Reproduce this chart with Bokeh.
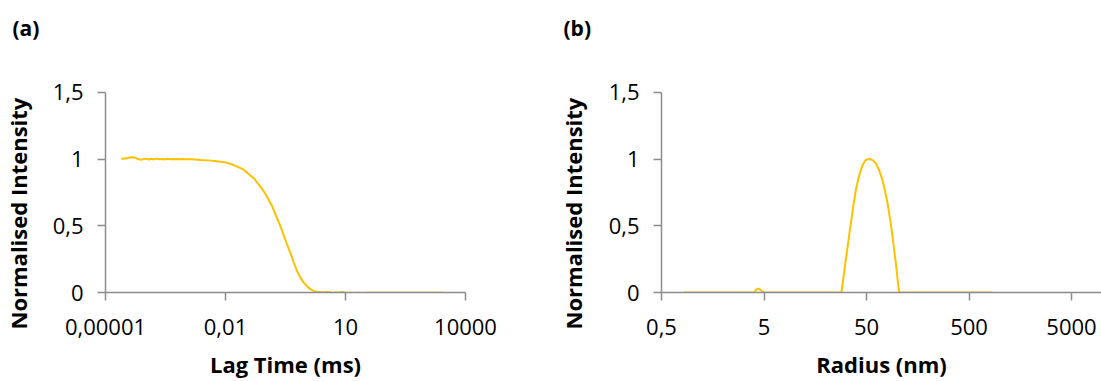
from bokeh.plotting import figure
from bokeh.layouts import row
from bokeh.models import FixedTicker, Range1d, Title
from bokeh.embed import file_html
from bokeh.resources import INLINE

# (a) correlation function vs lag time
lag_time_ms = [2.5e-5, 3.0e-5, 3.5e-5, 4.1e-5, 4.8e-5, 5.6e-5, 6.5e-5, 7.5e-5, 8.8e-5,
               1.0e-4, 1.2e-4, 1.4e-4, 1.6e-4, 1.9e-4, 2.2e-4, 2.6e-4, 3.0e-4, 3.5e-4,
               4.1e-4, 4.8e-4, 5.6e-4, 6.5e-4, 7.5e-4, 8.8e-4, 1.0e-3, 1.5e-3, 2.4e-3,
               3.6e-3, 5.4e-3, 7.5e-3, 1.0e-2, 1.6e-2, 2.4e-2, 2.9e-2, 3.6e-2, 4.6e-2,
               0.0513, 0.0676, 0.0912, 0.1175, 0.148, 0.186, 0.237, 0.288, 0.347, 0.427,
               0.513, 0.617, 0.75, 0.912, 1.096, 1.32, 1.62, 1.95, 2.37, 2.9, 3.5, 4.2,
               5.0, 5.8, 6.7, 7.8, 9.0, 10.5, 12.5, 15, 20, 27, 36, 50, 70, 100, 150,
               230, 350, 550, 850, 1300, 2000, 3000]
intensity_a = [1.000, 1.004, 1.008, 1.011, 1.013, 1.010, 1.000, 0.995, 0.998,
               1.003, 0.996, 1.002, 0.997, 1.003, 0.998, 1.001, 0.997, 1.002,
               0.999, 1.001, 0.998, 1.000, 0.998, 1.000, 0.999, 0.998, 0.993,
               0.990, 0.985, 0.980, 0.975, 0.955, 0.932, 0.918, 0.893, 0.866,
               0.856, 0.810, 0.756, 0.700, 0.644, 0.570, 0.495, 0.425, 0.358, 0.290,
               0.221, 0.160, 0.110, 0.072, 0.047, 0.025, 0.010, 0.005, 0.003, 0.002, 0.004, 0.001,
               -0.003, 0.002, -0.004, 0.003, 0.001, -0.003, -0.002, -0.003, -0.002, -0.003, -0.001, -0.002, -0.001, -0.002, -0.001,
               -0.002, -0.001, -0.002, -0.001, -0.001, -0.001, -0.001]

# (b) size distribution vs radius
radius_nm = [0.83, 4.0, 4.2, 4.38, 4.6, 4.94, 28.5, 29.9, 31.4, 33.2, 35.2, 37.2, 39.4,
             41.7, 44.0, 46.5, 49.2, 51.6, 54.2, 57.8, 61.7, 66.5, 71.6, 75.8, 80.2,
             85.0, 89.7, 93.1, 96.6, 100.2, 104.0, 847]
intensity_b = [0, 0, 0.022, 0.03, 0.022, 0, 0, 0.12, 0.246, 0.38, 0.52, 0.65, 0.77,
               0.855, 0.918, 0.965, 0.993, 0.998, 1.0, 0.99, 0.968, 0.915, 0.843, 0.76, 0.67,
               0.55, 0.42, 0.32, 0.22, 0.11, 0, 0]

y_ticks = [0, 0.5, 1, 1.5]
y_labels = ["0", "0,5", "1", "1,5"]
xa_ticks = [1e-5, 1e-2, 10, 1e4]
xa_labels = ["0,00001", "0,01", "10", "10000"]
xb_ticks = [0.5, 5, 50, 500, 5000]
xb_labels = ["0,5", "5", "50", "500", "5000"]
y_title = "Normalised Intensity"

LINE = "#FFC000"
AXIS = "#8C8C8C"
FONT = "Open Sans"

# the frame starts above the 1.5 tick so the panel letter fits in the top border;
# the y axis itself is bounded to 0..1.5
FRAME_TOP = 45
PX_PER_UNIT = 134.0
Y_END = 1.5 + (92 - FRAME_TOP) / PX_PER_UNIT


def style(p, xticks, xlabels, xtitle, letter, letter_offset, ytitle_standoff):
    p.outline_line_color = None
    p.grid.visible = False
    p.background_fill_color = "white"
    p.border_fill_color = "white"
    p.yaxis.ticker = FixedTicker(ticks=y_ticks)
    p.yaxis.major_label_overrides = dict(zip(y_ticks, y_labels))
    p.yaxis.bounds = (0, 1.5)
    p.xaxis.ticker = FixedTicker(ticks=xticks)
    p.xaxis.major_label_overrides = dict(zip(xticks, xlabels))
    for ax in (p.xaxis[0], p.yaxis[0]):
        ax.axis_line_color = AXIS
        ax.axis_line_width = 1.5
        ax.major_tick_line_color = AXIS
        ax.major_tick_line_width = 1.5
        ax.major_tick_in = 0
        ax.major_tick_out = 8
        ax.minor_tick_line_color = None
        ax.major_label_text_font = FONT
        ax.major_label_text_font_size = "22px"
        ax.major_label_text_color = "#000000"
        ax.axis_label_text_font = FONT
        ax.axis_label_text_font_size = "22px"
        ax.axis_label_text_font_style = "bold"
        ax.axis_label_text_color = "#000000"
    p.xaxis.axis_label = xtitle
    p.yaxis.major_label_standoff = 14
    p.xaxis.major_label_standoff = 18
    p.xaxis.axis_label_standoff = 11

    # panel letter, top-left
    p.title.text = letter
    p.title.align = "left"
    p.title.offset = letter_offset
    p.title.vertical_align = "bottom"
    p.title.standoff = 8
    p.title.text_font = FONT
    p.title.text_font_size = "21px"
    p.title.text_font_style = "bold"
    p.title.text_color = "#000000"

    # vertical axis title, rotated, outside the tick labels
    p.add_layout(Title(text=y_title, align="left", offset=-37, vertical_align="top",
                       standoff=ytitle_standoff, text_font=FONT, text_font_size="22px",
                       text_font_style="bold", text_color="#000000"), "left")


# left chart: canvas starts 20 px left of the page so its border can hold the axis title
pa = figure(width=559, height=381, x_axis_type="log",
            x_range=Range1d(1e-5, 1e4), y_range=Range1d(0, Y_END),
            output_backend="svg", toolbar_location=None,
            min_border_left=125, min_border_right=74,
            min_border_top=FRAME_TOP, min_border_bottom=88,
            margin=(0, 0, 0, -20))
pa.line(lag_time_ms, intensity_a, line_color=LINE, line_width=2)
style(pa, xa_ticks, xa_labels, "Lag Time (ms)", "(a)", -93, 30)

# right chart: frame runs to the right edge of the page
xb_end = 10 ** (-0.30103 + 440 / 102.5)
pb = figure(width=562, height=381, x_axis_type="log",
            x_range=Range1d(0.5, xb_end), y_range=Range1d(0, Y_END),
            output_backend="svg", toolbar_location=None,
            min_border_left=122, min_border_right=0,
            min_border_top=FRAME_TOP, min_border_bottom=88)
pb.line(radius_nm, intensity_b, line_color=LINE, line_width=2)
style(pb, xb_ticks, xb_labels, "Radius (nm)", "(b)", -98, 32)

layout = row(pa, pb, spacing=0)
open("out.html", "w").write(file_html(layout, INLINE))
